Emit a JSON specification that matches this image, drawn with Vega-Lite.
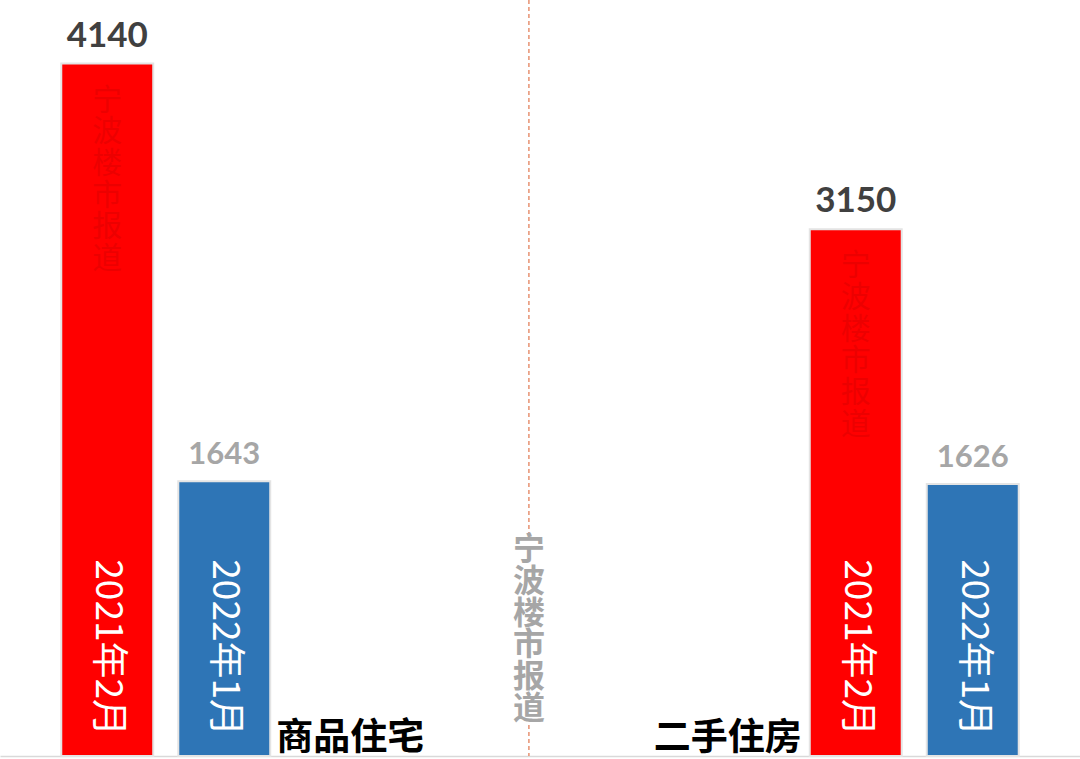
{
  "$schema": "https://vega.github.io/schema/vega-lite/v6.json",
  "width": 1080,
  "height": 756,
  "autosize": "none",
  "padding": {"left": 0, "top": 0, "right": 0, "bottom": 3},
  "background": "#ffffff",
  "config": {"view": {"stroke": null}, "axis": {"grid": false}},
  "datasets": {
    "sales": [
      {"group": "商品住宅", "year": "2021年2月", "value": 4140, "wm": "宁\n波\n楼\n市\n报\n道"},
      {"group": "商品住宅", "year": "2022年1月", "value": 1643, "wm": ""},
      {"group": "二手住房", "year": "2021年2月", "value": 3150, "wm": "宁\n波\n楼\n市\n报\n道"},
      {"group": "二手住房", "year": "2022年1月", "value": 1626, "wm": ""}
    ],
    "divider": [
      {"group": "divider", "label": "宁\n波\n楼\n市\n报\n道"}
    ]
  },
  "layer": [
    {
      "data": {"name": "sales"},
      "mark": {"type": "bar", "stroke": "#e4e4e4", "strokeWidth": 2},
      "encoding": {
        "x": {
          "field": "group", "type": "nominal",
          "scale": {"domain": ["商品住宅", "divider", "二手住房"], "paddingInner": 0.4416, "paddingOuter": 0.1637},
          "axis": {"labels": false, "ticks": false, "title": null, "domainColor": "#d9d9d9", "domainWidth": 1.5}
        },
        "y": {
          "field": "value", "type": "quantitative",
          "scale": {"domain": [0, 4520], "nice": false, "zero": true},
          "axis": null
        },
        "xOffset": {"field": "year", "type": "nominal", "scale": {"domain": ["2021年2月", "2022年1月"], "paddingInner": 0.214, "paddingOuter": 0}},
        "color": {"field": "year", "type": "nominal", "scale": {"domain": ["2021年2月", "2022年1月"], "range": ["#ff0000", "#2e75b6"]}, "legend": null}
      }
    },
    {
      "data": {"name": "divider"},
      "mark": {"type": "rule", "color": "#e0764e", "strokeDash": [4, 3], "strokeWidth": 1.2},
      "encoding": {"x": {"field": "group", "type": "nominal", "bandPosition": 0.447}, "y": {"datum": 4520}, "y2": {"datum": 1325}}
    },
    {
      "data": {"name": "divider"},
      "mark": {"type": "rule", "color": "#e0764e", "strokeDash": [4, 3], "strokeWidth": 1.2},
      "encoding": {"x": {"field": "group", "type": "nominal", "bandPosition": 0.447}, "y": {"datum": 185}, "y2": {"datum": 0}}
    },
    {
      "data": {"name": "divider"},
      "mark": {"type": "text", "lineBreak": "\n", "font": "Noto Sans CJK SC", "fontWeight": "bold", "fontSize": 32, "lineHeight": 31.7, "color": "#a6a6a6", "baseline": "top", "align": "center"},
      "encoding": {"x": {"field": "group", "type": "nominal", "bandPosition": 0.447}, "y": {"datum": 1320}, "text": {"field": "label"}}
    },
    {
      "data": {"name": "sales"},
      "mark": {"type": "text", "lineBreak": "\n", "font": "Noto Sans CJK SC", "fontSize": 30, "lineHeight": 31.7, "color": "#000000", "opacity": 0.07, "baseline": "top", "align": "center", "dy": 22},
      "encoding": {
        "x": {"field": "group", "type": "nominal"},
        "y": {"field": "value", "type": "quantitative"},
        "xOffset": {"field": "year", "type": "nominal"},
        "text": {"field": "wm"}
      }
    },
    {
      "data": {"name": "sales"},
      "mark": {"type": "text", "font": "Noto Sans CJK SC", "fontSize": 37, "color": "#ffffff", "angle": 90, "align": "right", "baseline": "middle", "dx": -20},
      "encoding": {
        "x": {"field": "group", "type": "nominal"},
        "xOffset": {"field": "year", "type": "nominal"},
        "y": {"datum": 0},
        "text": {"field": "year"}
      }
    },
    {
      "data": {"name": "sales"},
      "mark": {"type": "text", "font": "Lato", "fontWeight": "bold", "baseline": "alphabetic", "align": "center", "dy": -17},
      "encoding": {
        "x": {"field": "group", "type": "nominal"},
        "y": {"field": "value", "type": "quantitative"},
        "xOffset": {"field": "year", "type": "nominal"},
        "text": {"field": "value", "type": "quantitative", "format": "d"},
        "size": {"condition": {"test": "datum.year == '2021年2月'", "value": 35}, "value": 31},
        "color": {"condition": {"test": "datum.year == '2021年2月'", "value": "#404040"}, "value": "#a6a6a6"}
      }
    },
    {
      "data": {"name": "sales"},
      "transform": [{"filter": "datum.group == '商品住宅' && datum.year == '2021年2月'"}],
      "mark": {"type": "text", "font": "Noto Sans CJK SC", "fontWeight": "bold", "fontSize": 37, "color": "#000000", "align": "left", "baseline": "bottom", "dx": 6, "dy": 2},
      "encoding": {
        "x": {"field": "group", "type": "nominal", "bandPosition": 1},
        "y": {"datum": 0},
        "text": {"field": "group"}
      }
    },
    {
      "data": {"name": "sales"},
      "transform": [{"filter": "datum.group == '二手住房' && datum.year == '2021年2月'"}],
      "mark": {"type": "text", "font": "Noto Sans CJK SC", "fontWeight": "bold", "fontSize": 37, "color": "#000000", "align": "right", "baseline": "bottom", "dx": -8, "dy": 2},
      "encoding": {
        "x": {"field": "group", "type": "nominal", "bandPosition": 0},
        "y": {"datum": 0},
        "text": {"field": "group"}
      }
    }
  ]
}
